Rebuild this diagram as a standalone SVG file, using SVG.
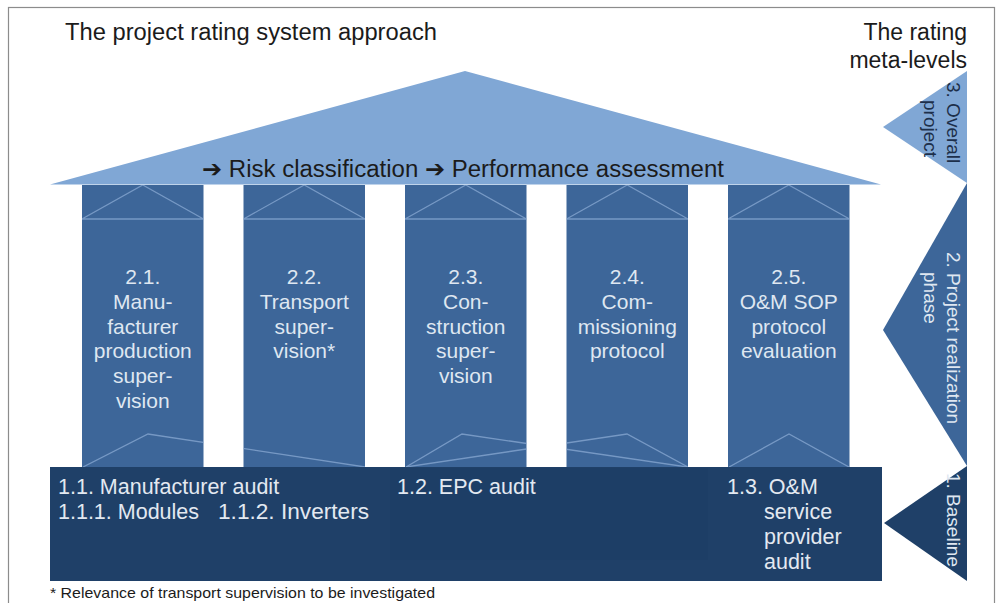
<svg xmlns="http://www.w3.org/2000/svg" width="1008" height="603" viewBox="0 0 1008 603">
<style>
text{font-family:"Liberation Sans",Arial,"DejaVu Sans",sans-serif}
.t{font-size:23.5px;fill:#1b1b1b}
.p{font-size:21px;fill:#dfe7f1;text-anchor:middle}
.b{font-size:21.5px;fill:#e3e9f1}
.v{font-size:19px}
.pil{fill:#3d6699}
.orn{fill:none;stroke:#8aaad3;stroke-width:1.3;opacity:.75}
</style>
<defs>
<clipPath id="pc">
<rect x="82" y="185" width="121.5" height="282"/>
<rect x="243.5" y="185" width="121.5" height="282"/>
<rect x="405" y="185" width="121.5" height="282"/>
<rect x="566.5" y="185" width="121.5" height="282"/>
<rect x="728" y="185" width="121.5" height="282"/>
</clipPath>
</defs>
<rect x="0" y="0" width="1008" height="603" fill="#ffffff"/>
<rect x="8.5" y="7.5" width="986" height="610" fill="none" stroke="#8c8c8c" stroke-width="1.2"/>

<g id="titles">
<text class="t" x="65" y="40" textLength="372" lengthAdjust="spacingAndGlyphs">The project rating system approach</text>
<text class="t" x="967" y="40" text-anchor="end" style="font-size:23px">The rating</text>
<text class="t" x="967" y="68" text-anchor="end" style="font-size:23px">meta-levels</text>
</g>

<g id="roof">
<polygon points="50,184.5 465,71 881,184.5" fill="#80a7d5"/>
<text class="t" x="202" y="177" textLength="522" lengthAdjust="spacingAndGlyphs">➔ Risk classification ➔ Performance assessment</text>
</g>

<g id="pillar-2-1">
<rect class="pil" x="82" y="185" width="121.5" height="282"/>
<text class="p" x="142.75" y="284">2.1.</text>
<text class="p" x="142.75" y="309">Manu-</text>
<text class="p" x="142.75" y="334">facturer</text>
<text class="p" x="142.75" y="358">production</text>
<text class="p" x="142.75" y="383">super-</text>
<text class="p" x="142.75" y="408">vision</text>
</g>
<g id="pillar-2-2">
<rect class="pil" x="243.5" y="185" width="121.5" height="282"/>
<text class="p" x="304.25" y="284">2.2.</text>
<text class="p" x="304.25" y="309">Transport</text>
<text class="p" x="304.25" y="334">super-</text>
<text class="p" x="304.25" y="358">vision*</text>
</g>
<g id="pillar-2-3">
<rect class="pil" x="405" y="185" width="121.5" height="282"/>
<text class="p" x="465.75" y="284">2.3.</text>
<text class="p" x="465.75" y="309">Con-</text>
<text class="p" x="465.75" y="334">struction</text>
<text class="p" x="465.75" y="358">super-</text>
<text class="p" x="465.75" y="383">vision</text>
</g>
<g id="pillar-2-4">
<rect class="pil" x="566.5" y="185" width="121.5" height="282"/>
<text class="p" x="627.25" y="284">2.4.</text>
<text class="p" x="627.25" y="309">Com-</text>
<text class="p" x="627.25" y="334">missioning</text>
<text class="p" x="627.25" y="358">protocol</text>
</g>
<g id="pillar-2-5">
<rect class="pil" x="728" y="185" width="121.5" height="282"/>
<text class="p" x="788.75" y="284">2.5.</text>
<text class="p" x="788.75" y="309">O&amp;M SOP</text>
<text class="p" x="788.75" y="334">protocol</text>
<text class="p" x="788.75" y="358">evaluation</text>
</g>

<g id="ornaments" clip-path="url(#pc)">
<path class="orn" d="M82 219H203.5M82 219L142.75 185L203.5 219"/>
<path class="orn" d="M243.5 219H365M243.5 219L304.25 185L365 219"/>
<path class="orn" d="M405 219H526.5M405 219L465.75 185L526.5 219"/>
<path class="orn" d="M566.5 219H688M566.5 219L627.25 185L688 219"/>
<path class="orn" d="M728 219H849.5M728 219L788.75 185L849.5 219"/>
<path class="orn" d="M83 467L148 434L365 467"/>
<path class="orn" d="M406 467L462 434L687 467"/>
<path class="orn" d="M406 467L627 434L688 467"/>
<path class="orn" d="M729 467L789 434L849 467"/>
</g>

<g id="base">
<rect x="50" y="467" width="832" height="114" fill="#1f4068"/>
<rect x="390" y="468" width="318" height="92" fill="#1c3c62" opacity="0.3"/>
<text class="b" x="58" y="494">1.1. Manufacturer audit</text>
<text class="b" x="58" y="519">1.1.1. Modules</text>
<text class="b" x="218" y="519" textLength="151" lengthAdjust="spacingAndGlyphs">1.1.2. Inverters</text>
<text class="b" x="397" y="494">1.2. EPC audit</text>
<text class="b" x="727" y="494">1.3. O&amp;M</text>
<text class="b" x="764" y="519">service</text>
<text class="b" x="764" y="544">provider</text>
<text class="b" x="764" y="569">audit</text>
</g>

<g id="footnote">
<text x="50" y="598" style="font-size:14.5px;fill:#1b1b1b" textLength="385" lengthAdjust="spacingAndGlyphs">* Relevance of transport supervision to be investigated</text>
</g>

<g id="meta-3">
<polygon points="967,71 883,127 967,183" fill="#80a7d5"/>
<text class="v" transform="translate(947,82) rotate(90)" fill="#1d2f4a"><tspan x="0" y="0">3. Overall</tspan><tspan x="18" y="23">project</tspan></text>
</g>
<g id="meta-2">
<polygon points="967,183 883,330 967,466" fill="#3d6699"/>
<text class="v" transform="translate(947,252) rotate(90)" fill="#dfe7f1"><tspan x="0" y="0">2. Project realization</tspan><tspan x="20" y="23">phase</tspan></text>
</g>
<g id="meta-1">
<polygon points="967,466 884,523 967,581" fill="#1f4068"/>
<text class="v" transform="translate(947,473) rotate(90)" fill="#dfe7f1">1. Baseline</text>
</g>
</svg>
